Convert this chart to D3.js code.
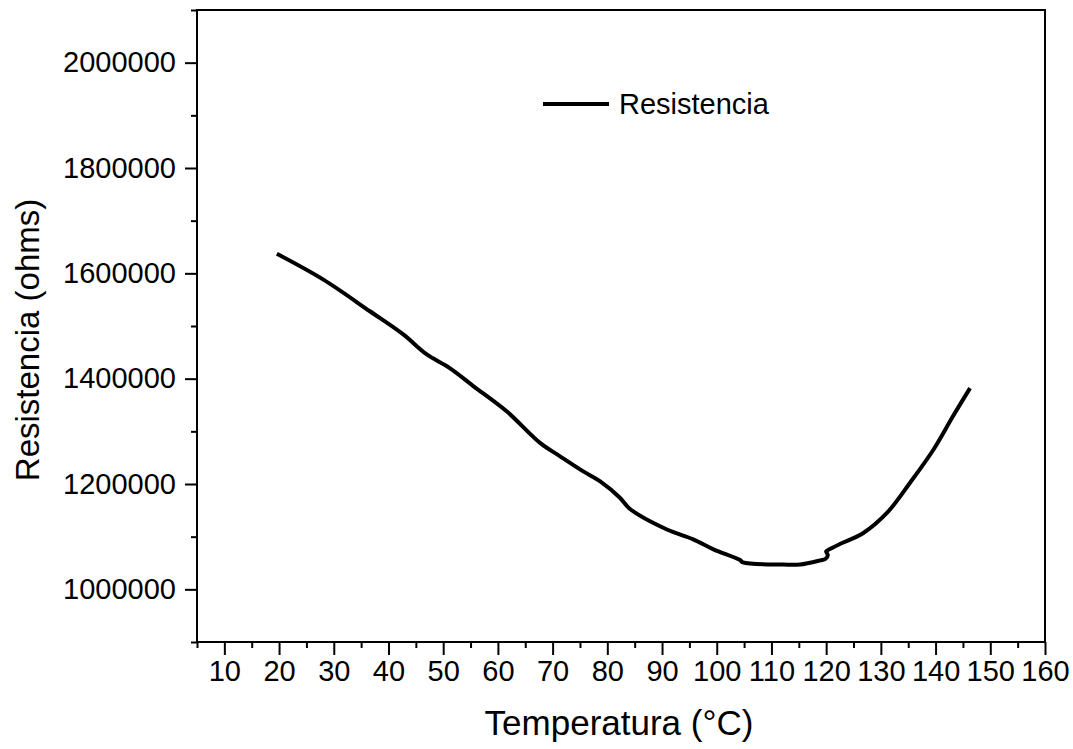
<!DOCTYPE html>
<html>
<head>
<meta charset="utf-8">
<script src="https://cdn.jsdelivr.net/npm/d3@7"></script>
<style>
  html, body { margin: 0; padding: 0; background: #fff; }
  svg { display: block; font-family: "Liberation Sans", Arial, sans-serif; }
</style>
</head>
<body>
<svg id="chart" width="1073" height="749"></svg>
<script>
// Data
const temperature = [19.6, 28.1, 36.6, 42.7, 47.0, 51.2, 55.5, 61.6, 67.7, 71.3, 75.6, 78.7, 82.3, 84.1, 90.8, 95.7, 99.4, 104.2, 104.8, 112.2, 115.2, 118.9, 119.9, 120.3, 120.0, 120.6, 122.5, 126.8, 131.1, 135.3, 139.6, 143.2, 146.3];
const resistance = [1637000, 1588000, 1528000, 1484000, 1446000, 1420000, 1386000, 1338000, 1278000, 1253000, 1224000, 1205000, 1174000, 1153000, 1114000, 1095000, 1076000, 1056000, 1051000, 1047000, 1047000, 1055000, 1058000, 1065000, 1072000, 1076000, 1086000, 1107000, 1145000, 1202000, 1265000, 1329000, 1382000];
const xTickValues = [10, 20, 30, 40, 50, 60, 70, 80, 90, 100, 110, 120, 130, 140, 150, 160];
const yTickValues = [1000000, 1200000, 1400000, 1600000, 1800000, 2000000];
const seriesName = "Resistencia";
const xTitle = "Temperatura (°C)";
const yTitle = "Resistencia (ohms)";

const W = 1073, H = 749;
const margin = { top: 10, right: 28, bottom: 107, left: 197 };
const iw = W - margin.left - margin.right;
const ih = H - margin.top - margin.bottom;

const svg = d3.select("#chart");
const g = svg.append("g").attr("transform", `translate(${margin.left},${margin.top})`);

const x = d3.scaleLinear().domain([5, 160]).range([0, iw]);
const y = d3.scaleLinear().domain([900000, 2100000]).range([ih, 0]);

const fontSize = 29;

// X axis minor ticks
const xMinor = d3.range(5, 161, 5).filter(v => !xTickValues.includes(v));
const xMinorAxis = d3.axisBottom(x).tickValues(xMinor).tickSize(6).tickFormat("");
g.append("g").attr("transform", `translate(0,${ih})`).call(xMinorAxis)
  .call(s => s.select(".domain").remove())
  .call(s => s.selectAll("line").attr("stroke", "#000").attr("stroke-width", 2));

const xAxis = d3.axisBottom(x).tickValues(xTickValues).tickSize(13).tickPadding(5).tickFormat(d3.format("d"));
g.append("g").attr("transform", `translate(0,${ih})`).call(xAxis)
  .call(s => s.select(".domain").remove())
  .call(s => s.selectAll("line").attr("stroke", "#000").attr("stroke-width", 2))
  .call(s => s.selectAll("text").attr("font-size", fontSize).attr("fill", "#000")
    .attr("font-family", "'Liberation Sans', Arial, sans-serif"));

// Y axis minor ticks
const yMinor = d3.range(900000, 2100001, 100000).filter(v => !yTickValues.includes(v));
const yMinorAxis = d3.axisLeft(y).tickValues(yMinor).tickSize(6).tickFormat("");
g.append("g").call(yMinorAxis)
  .call(s => s.select(".domain").remove())
  .call(s => s.selectAll("line").attr("stroke", "#000").attr("stroke-width", 2));

const yAxis = d3.axisLeft(y).tickValues(yTickValues).tickSize(12).tickPadding(9).tickFormat(d3.format("d"));
g.append("g").call(yAxis)
  .call(s => s.select(".domain").remove())
  .call(s => s.selectAll("line").attr("stroke", "#000").attr("stroke-width", 2))
  .call(s => s.selectAll("text").attr("font-size", fontSize).attr("fill", "#000")
    .attr("font-family", "'Liberation Sans', Arial, sans-serif"));

// Frame
g.append("rect").attr("x", 0).attr("y", 0).attr("width", iw).attr("height", ih)
  .attr("fill", "none").attr("stroke", "#000").attr("stroke-width", 2);

// Data line
const data = temperature.map((t, i) => ({ t, r: resistance[i] }));
const line = d3.line().x(d => x(d.t)).y(d => y(d.r)).curve(d3.curveCatmullRom.alpha(0.5));
g.append("path").datum(data).attr("d", line)
  .attr("fill", "none").attr("stroke", "#000").attr("stroke-width", 4)
  .attr("stroke-linejoin", "round").attr("stroke-linecap", "butt");

// Legend
svg.append("line").attr("x1", 543).attr("x2", 609).attr("y1", 104).attr("y2", 104)
  .attr("stroke", "#000").attr("stroke-width", 4);
svg.append("text").attr("x", 619).attr("y", 114).attr("font-size", fontSize)
  .attr("fill", "#000").text(seriesName);

// Axis titles
svg.append("text").attr("x", margin.left + iw / 2 - 2).attr("y", 735)
  .attr("text-anchor", "middle").attr("font-size", 35).attr("fill", "#000").text(xTitle);
svg.append("text").attr("transform", `translate(39,${margin.top + ih / 2 + 14}) rotate(-90)`)
  .attr("text-anchor", "middle").attr("font-size", 33).attr("fill", "#000").text(yTitle);
</script>
</body>
</html>
